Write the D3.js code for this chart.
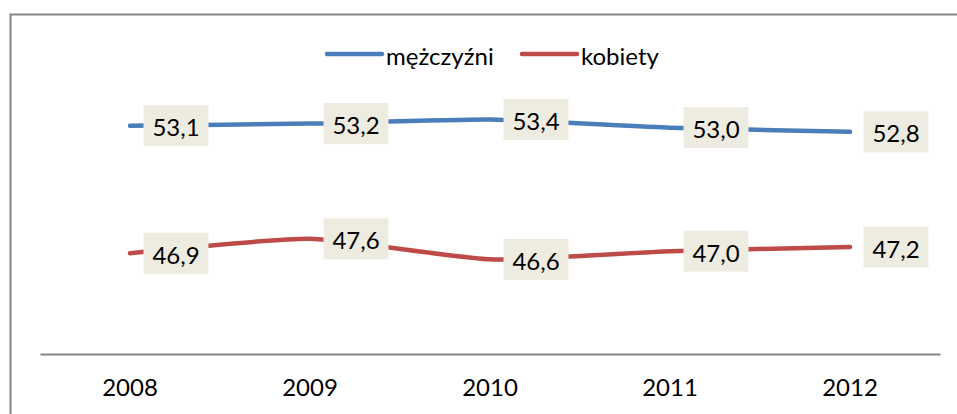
<!DOCTYPE html>
<html>
<head>
<meta charset="utf-8">
<script src="https://cdn.jsdelivr.net/npm/d3@7"></script>
<style>
  body { margin: 0; background: #fff; }
  text { font-family: Lato, "Open Sans", sans-serif; fill: #000; }
</style>
</head>
<body>
<script>
// dane
const years = ["2008", "2009", "2010", "2011", "2012"];
const men = [53.1, 53.2, 53.4, 53.0, 52.8];
const women = [46.9, 47.6, 46.6, 47.0, 47.2];
const seriesNames = ["mężczyźni", "kobiety"];
const seriesColors = ["#4a7ebb", "#be4b48"];

const width = 957, height = 414;
const svg = d3.select("body").append("svg")
    .attr("width", width).attr("height", height);

// ramka wykresu (widoczna tylko lewa i górna krawędź)
svg.append("path")
    .attr("d", "M10.5,414 V14.5 H957")
    .attr("fill", "none")
    .attr("stroke", "#868686")
    .attr("stroke-width", 2);

const x = d3.scaleBand().domain(years).range([40, 940]);
const y = d3.scaleLinear().domain([42, 56]).range([354, 66]);
const fmt = v => d3.format(".1f")(v).replace(".", ",");

// oś x
const xAxis = svg.append("g")
    .attr("transform", "translate(0,354)")
    .call(d3.axisBottom(x).tickSize(0).tickPadding(25));
xAxis.select(".domain").attr("stroke", "#868686").attr("stroke-width", 2);
xAxis.selectAll("text")
    .style("font-family", "Lato, 'Open Sans', sans-serif")
    .style("font-size", "24px")
    .attr("fill", "#000");

const line = d3.line()
    .x((d, i) => x(years[i]) + x.bandwidth() / 2)
    .y(d => y(d))
    .curve(d3.curveCardinal.tension(0.5));

const series = [men, women];
series.forEach((vals, s) => {
    svg.append("path")
        .datum(vals)
        .attr("d", line)
        .attr("fill", "none")
        .attr("stroke", seriesColors[s])
        .attr("stroke-width", 4.5)
        .attr("stroke-linecap", "round")
        .attr("stroke-linejoin", "round");
});

// etykiety danych
series.forEach((vals, s) => {
    const g = svg.append("g");
    vals.forEach((v, i) => {
        const cx = x(years[i]) + x.bandwidth() / 2 + 46;
        const cy = y(v);
        g.append("rect")
            .attr("x", cx - 32.5).attr("y", cy - 20.5)
            .attr("width", 65).attr("height", 41)
            .attr("fill", "#eeece1");
        g.append("text")
            .attr("x", cx).attr("y", cy + 1)
            .attr("text-anchor", "middle")
            .attr("dominant-baseline", "central")
            .style("font-size", "24px")
            .text(fmt(v));
    });
});

// legenda
const legend = [
    { name: seriesNames[0], color: seriesColors[0], x: 327 },
    { name: seriesNames[1], color: seriesColors[1], x: 522 }
];
legend.forEach(l => {
    svg.append("line")
        .attr("x1", l.x).attr("x2", l.x + 55)
        .attr("y1", 54).attr("y2", 54)
        .attr("stroke", l.color)
        .attr("stroke-width", 4.5)
        .attr("stroke-linecap", "round");
    svg.append("text")
        .attr("x", l.x + 59).attr("y", 55)
        .attr("dominant-baseline", "central")
        .style("font-size", "24px")
        .text(l.name);
});
</script>
</body>
</html>
